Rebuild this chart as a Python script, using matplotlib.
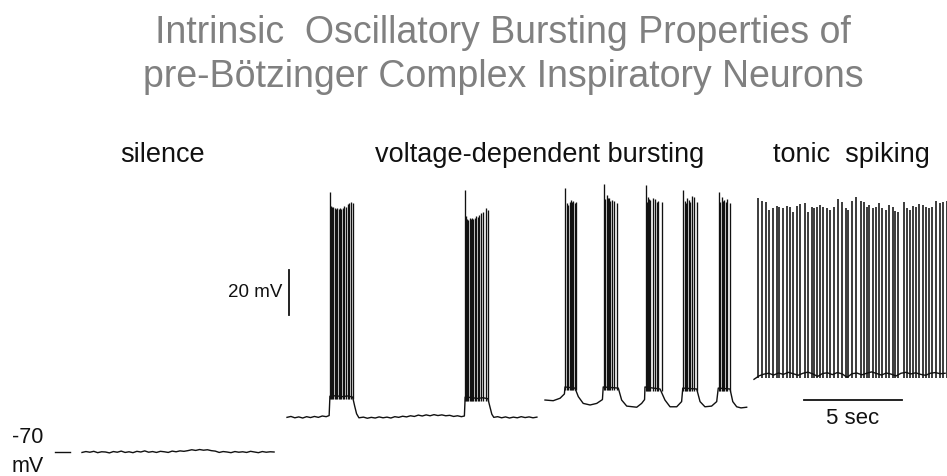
import matplotlib

matplotlib.use("Agg")
import matplotlib.pyplot as plt
import numpy as np

plt.rcParams["font.family"] = ["Liberation Sans", "DejaVu Sans"]

# ---- recordings: time in s, membrane potential in mV ----
REST_MV = -70
SCALE_MV = 20
SCALE_S = 5

# silence, sampled every 0.2 s
SILENCE_DT = 0.2
SILENCE_MV = [
    -70.2, -69.8, -70.1, -69.7, -70.3, -69.9, -70.0, -70.4, -69.8, -70.1,
    -69.6, -70.2, -69.9, -70.3, -69.7, -70.0, -69.5, -70.1, -69.8, -70.2,
    -69.7, -69.9, -70.2, -69.6, -69.9, -69.5, -69.7, -69.4, -69.0, -69.3,
    -68.9, -69.2, -69.0, -69.4, -69.6, -70.2, -69.8, -70.0, -70.3, -69.8,
    -70.1, -69.9, -70.2, -69.7, -70.0, -70.3, -69.8, -70.1, -69.9, -70.0,
]

# voltage-dependent bursting, slow rhythm (membrane trajectory without spikes)
SLOW_T = [
    0.00, 0.20, 0.40, 0.60, 0.80, 1.00, 1.20, 1.40, 1.60, 1.80, 2.00, 2.15,
    2.19, 2.50, 2.80, 3.10, 3.35, 3.45, 3.55, 3.67,
    3.90, 4.10, 4.30, 4.50, 4.70, 4.90, 5.10, 5.30, 5.50, 5.70, 5.90, 6.10,
    6.30, 6.50, 6.70, 6.90, 7.10, 7.30, 7.50, 7.70, 7.90, 8.10, 8.30, 8.50,
    8.70, 8.90, 9.05,
    9.09, 9.40, 9.70, 10.00, 10.25, 10.35, 10.45, 10.55,
    10.75, 10.95, 11.15, 11.35, 11.55, 11.75, 11.95, 12.15, 12.35, 12.55, 12.75,
]
SLOW_MV = [
    -54.6, -54.2, -54.8, -54.4, -54.9, -54.3, -54.7, -54.2, -54.6, -54.0, -54.3, -53.8,
    -45.2, -45.0, -45.4, -45.1, -45.6, -49.5, -53.0, -54.8,
    -54.5, -55.0, -54.6, -54.9, -54.4, -54.8, -54.5, -54.9, -54.3, -54.6, -54.1, -54.4,
    -53.9, -54.2, -53.6, -54.0, -53.5, -53.9, -53.4, -53.8, -53.5, -53.9, -53.7, -54.2,
    -53.9, -54.3, -54.0,
    -45.6, -45.8, -46.2, -45.9, -46.3, -49.8, -53.2, -54.6,
    -54.3, -54.8, -54.4, -54.9, -54.5, -54.8, -54.3, -54.7, -54.4, -54.8, -54.5,
]
SLOW_BURST_T = [
    [2.21, 2.26, 2.32, 2.37, 2.43, 2.49, 2.56, 2.63, 2.70, 2.77, 2.85, 2.92,
     3.01, 3.09, 3.17, 3.27, 3.36],
    [9.10, 9.15, 9.20, 9.26, 9.32, 9.38, 9.45, 9.51, 9.58, 9.66, 9.73, 9.81,
     9.90, 10.02, 10.14, 10.28],
]
SLOW_BURST_PEAK = [
    [45.6, 39.5, 38.8, 39.0, 38.5, 38.2, 38.6, 38.0, 38.4, 37.8, 38.5, 39.2,
     38.9, 40.2, 40.8, 41.2, 40.5],
    [46.4, 34.8, 33.6, 33.2, 33.9, 33.4, 34.0, 33.5, 34.2, 34.8, 34.5, 35.5,
     36.2, 36.8, 38.6, 37.4],
]
SLOW_BURST_TROUGH = [-46.5, -47.2]

# voltage-dependent bursting, fast rhythm
FAST_T = [
    0.00, 0.42, 0.77, 0.99, 1.02, 1.53, 1.70, 1.95, 2.30, 2.64, 2.93,
    2.97, 3.74, 3.91, 4.17, 4.68, 4.93, 5.08,
    5.10, 5.87, 6.12, 6.38, 6.72, 6.97,
    7.03, 7.74, 7.91, 8.16, 8.50, 8.76,
    8.84, 9.44, 9.58, 9.78, 10.00, 10.29,
]
FAST_MV = [
    -46.9, -47.2, -46.1, -44.2, -41.1, -41.6, -45.4, -48.4, -49.1, -48.4, -46.7,
    -41.1, -41.6, -46.9, -49.6, -50.1, -48.4, -46.7,
    -41.1, -42.0, -46.9, -49.9, -49.9, -47.6,
    -41.6, -42.0, -47.6, -49.9, -49.6, -47.6,
    -41.6, -42.0, -47.6, -49.9, -50.4, -50.1,
]
FAST_BURST_T = [
    [1.02, 1.10, 1.19, 1.26, 1.31, 1.38, 1.44, 1.51, 1.58],
    [3.01, 3.08, 3.15, 3.21, 3.27, 3.34, 3.40, 3.52, 3.69],
    [5.14, 5.19, 5.24, 5.30, 5.36, 5.49, 5.61, 5.70, 5.78, 5.95],
    [7.05, 7.12, 7.18, 7.23, 7.35, 7.42, 7.48, 7.60, 7.74],
    [8.88, 8.95, 9.01, 9.08, 9.15, 9.22, 9.30, 9.44],
]
FAST_BURST_PEAK = [
    [47.2, 40.5, 39.8, 41.0, 42.0, 41.3, 41.7, 40.6, 41.2],
    [49.1, 42.5, 44.2, 43.0, 42.8, 41.5, 42.0, 41.7, 40.8],
    [48.7, 41.0, 43.5, 42.4, 42.0, 42.8, 42.3, 41.0, 41.7, 41.2],
    [46.4, 41.5, 40.8, 42.8, 42.0, 41.0, 43.8, 43.5, 41.2],
    [45.7, 40.9, 43.5, 41.5, 42.0, 41.2, 42.3, 40.5],
]
FAST_BURST_TROUGH = [-42.5, -42.5, -43.0, -42.8, -42.8]

# tonic spiking, interspike trajectory sampled every 0.25 s
TONIC_DT = 0.25
TONIC_MV = [
    -37.7, -36.2, -35.4, -35.0, -35.8, -34.9, -35.5, -34.6, -35.2, -35.9,
    -35.0, -34.5, -35.3, -36.4, -35.1, -34.8, -35.6, -34.7, -35.3, -36.8,
    -35.2, -34.9, -35.7, -35.0, -34.4, -35.1, -35.8, -34.9, -35.4, -36.2,
    -35.0, -34.6, -35.3, -34.8, -35.5, -35.9, -35.0, -34.7, -35.2, -35.0,
]
TONIC_SPIKE_T = [
    0.22, 0.42, 0.61, 0.78, 0.95, 1.16, 1.29, 1.46, 1.67, 1.84, 2.01, 2.18,
    2.35, 2.60, 2.77, 2.94, 3.06, 3.23, 3.37, 3.54, 3.74, 3.88, 4.08, 4.30,
    4.47, 4.69, 4.81, 4.98, 5.20, 5.44, 5.61, 5.75, 5.88, 6.06, 6.22, 6.39,
    6.52, 6.73, 6.90, 7.08, 7.19, 7.36, 7.65, 7.79, 7.96, 8.10, 8.27, 8.43,
    8.61, 8.78, 8.94, 9.07, 9.29, 9.49, 9.66, 9.83,
]
TONIC_SPIKE_PEAK = [
    42.7, 41.7, 41.3, 37.6, 38.3, 39.3, 39.0, 38.3, 39.3, 38.7, 36.8, 39.3,
    40.2, 40.8, 36.8, 38.7, 38.3, 39.0, 39.8, 38.7, 38.3, 37.6, 39.0, 42.3,
    41.3, 38.3, 37.6, 41.7, 43.2, 41.7, 41.3, 39.0, 39.8, 38.3, 39.0, 40.5,
    38.3, 37.6, 39.8, 39.0, 37.3, 36.8, 41.3, 38.3, 37.6, 39.3, 38.7, 40.2,
    39.8, 38.7, 38.3, 39.0, 41.7, 40.8, 41.3, 41.7,
]
TONIC_TROUGH = -37.2

HEADERS = ["silence", "voltage-dependent bursting", "tonic  spiking"]
TITLE_LINES = [
    "Intrinsic  Oscillatory Bursting Properties of",
    "pre-Bötzinger Complex Inspiratory Neurons",
]

# ---- layout (pixels of the 947 x 476 canvas) ----
W, H = 947, 476
PX_PER_S = 19.6
PX_PER_MV = 2.25
REST_Y_PX = 452                      # where -70 mV sits, from the top
TRACE_X0_PX = [82, 287, 545, 754]    # left edge of each recording
HEADER_X_PX = [162, 540, 851]
HEADER_BASE_PX = 162
TITLE_X_PX = 503
TITLE_BASE_PX = [43, 87]
INK = "#111111"
TITLE_GREY = "#808080"


def px_to_s(x):
    return x / PX_PER_S


def sampled(dt, values):
    return np.arange(len(values)) * dt, np.asarray(values)


def draw_spikes(ax, x0, times, peaks, trough, lw=0.95):
    ax.vlines(x0 + np.asarray(times), trough, peaks, color=INK, lw=lw)


fig = plt.figure(figsize=(W / 100, H / 100), dpi=100)
ax = fig.add_axes([0, 0, 1, 1])
ax.axis("off")
y_bottom = REST_MV - (H - REST_Y_PX) / PX_PER_MV
ax.set_xlim(0, px_to_s(W))
ax.set_ylim(y_bottom, y_bottom + H / PX_PER_MV)

x0 = [px_to_s(x) for x in TRACE_X0_PX]
trace = dict(color=INK, lw=1.0, solid_joinstyle="round")

# silence
t, v = sampled(SILENCE_DT, SILENCE_MV)
ax.plot(x0[0] + t, v, **trace)

# slow bursting
ax.plot(x0[1] + np.asarray(SLOW_T), SLOW_MV, **trace)
for times, peaks, trough in zip(SLOW_BURST_T, SLOW_BURST_PEAK, SLOW_BURST_TROUGH):
    draw_spikes(ax, x0[1], times, peaks, trough)

# fast bursting
ax.plot(x0[2] + np.asarray(FAST_T), FAST_MV, **trace)
for times, peaks, trough in zip(FAST_BURST_T, FAST_BURST_PEAK, FAST_BURST_TROUGH):
    draw_spikes(ax, x0[2], times, peaks, trough)

# tonic spiking
t, v = sampled(TONIC_DT, TONIC_MV)
ax.plot(x0[3] + t, v, **trace)
draw_spikes(ax, x0[3], TONIC_SPIKE_T, TONIC_SPIKE_PEAK, TONIC_TROUGH, lw=1.15)

# -70 mV reference mark
ax.plot([px_to_s(55), px_to_s(70)], [REST_MV, REST_MV], color=INK, lw=1.0)
ax.text(px_to_s(12), REST_MV + 4, f"{REST_MV}", ha="left", va="baseline",
        fontsize=15.5, color=INK)
ax.text(px_to_s(12), REST_MV - 9, "mV", ha="left", va="baseline",
        fontsize=15.5, color=INK)

# scale bars
bar_x = px_to_s(289)
ax.plot([bar_x, bar_x], [-9, -9 + SCALE_MV], color=INK, lw=1.3)
ax.text(px_to_s(282), -1.1, f"{SCALE_MV} mV", ha="right", va="baseline",
        fontsize=13.5, color=INK)

bar_y = -46.9
bar_left = px_to_s(804)
ax.plot([bar_left, bar_left + SCALE_S], [bar_y, bar_y], color=INK, lw=1.3)
ax.text(bar_left + SCALE_S / 2, -57.6, f"{SCALE_S} sec", ha="center",
        va="baseline", fontsize=16, color=INK)

# headers and title
for label, x in zip(HEADERS, HEADER_X_PX):
    fig.text(x / W, 1 - HEADER_BASE_PX / H, label, ha="center", va="baseline",
             fontsize=19.5, color=INK)
for line, y in zip(TITLE_LINES, TITLE_BASE_PX):
    fig.text(TITLE_X_PX / W, 1 - y / H, line, ha="center", va="baseline",
             fontsize=27, color=TITLE_GREY)

fig.savefig("out.png", dpi=100, facecolor="white")
